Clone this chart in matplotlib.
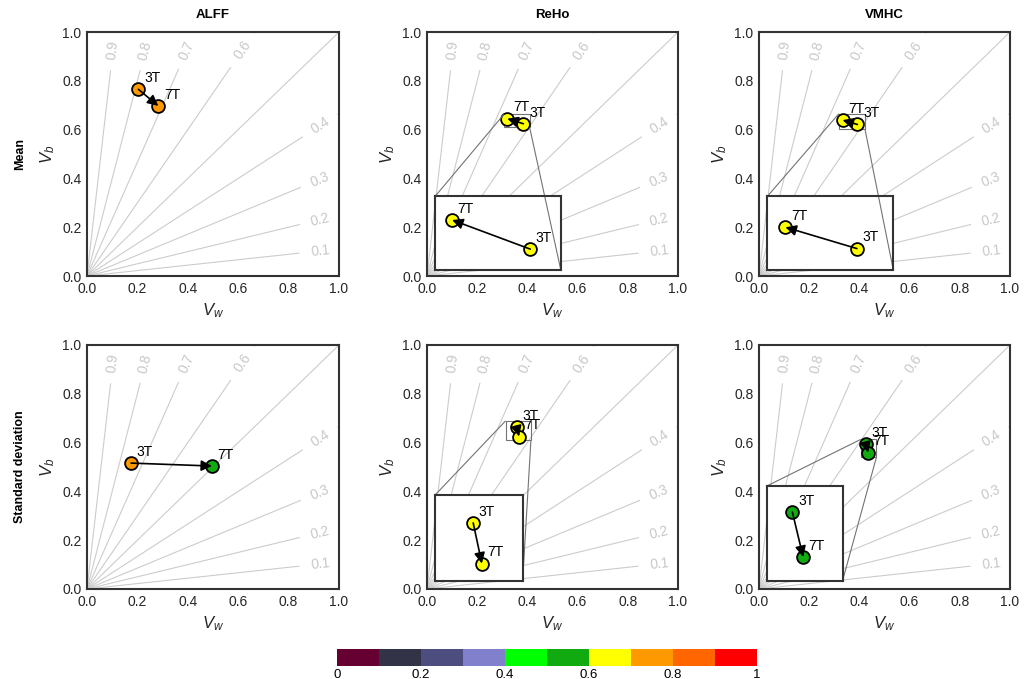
import numpy as np
import matplotlib
matplotlib.use("Agg")
import matplotlib.pyplot as plt
from matplotlib.colors import ListedColormap, BoundaryNorm
from matplotlib.colorbar import ColorbarBase
from mpl_toolkits.axes_grid1.inset_locator import mark_inset

plt.rcParams['font.family'] = ['Liberation Sans', 'DejaVu Sans']
plt.rcParams['mathtext.fontset'] = 'custom'
plt.rcParams['mathtext.rm'] = 'Liberation Sans'
plt.rcParams['mathtext.it'] = 'Liberation Sans:italic'

# ---------------- data ----------------
measures = ['ALFF', 'ReHo', 'VMHC']
stats = ['Mean', 'Standard deviation']
sessions = ['3T', '7T']

vw_3t_mean = [0.204, 0.384, 0.392]
vb_3t_mean = [0.765, 0.624, 0.621]
vw_7t_mean = [0.283, 0.320, 0.333]
vb_7t_mean = [0.697, 0.645, 0.639]

vw_3t_sd = [0.175, 0.357, 0.426]
vb_3t_sd = [0.516, 0.663, 0.593]
vw_7t_sd = [0.496, 0.367, 0.435]
vb_7t_sd = [0.504, 0.625, 0.559]

icc_levels = [0.1, 0.2, 0.3, 0.4, 0.5, 0.6, 0.7, 0.8, 0.9]
tick_values = [0.0, 0.2, 0.4, 0.6, 0.8, 1.0]
cbar_ticks = [0, 0.2, 0.4, 0.6, 0.8, 1]
cbar_ticklabels = ['0', '0.2', '0.4', '0.6', '0.8', '1']
cmap_colors = ['#660033', '#333347', '#4d4d7f', '#8080cc', '#00ff00',
               '#11aa11', '#ffff00', '#ff9900', '#ff6600', '#ff0000']
cmap_bounds = [0, 0.1, 0.2, 0.3, 0.4, 0.5, 0.6, 0.7, 0.8, 0.9, 1.0]

# inset layout (parent data coords) and zoom windows
inset_bounds = {(0, 1): [0.032, 0.025, 0.501, 0.301],
                (0, 2): [0.033, 0.025, 0.502, 0.301],
                (1, 1): [0.032, 0.034, 0.349, 0.351],
                (1, 2): [0.033, 0.034, 0.300, 0.389]}
inset_xlim = {(0, 1): (0.306, 0.409), (0, 2): (0.318, 0.422),
              (1, 1): (0.313, 0.414), (1, 2): (0.405, 0.468)}
inset_ylim = {(0, 1): (0.609, 0.662), (0, 2): (0.603, 0.665),
              (1, 1): (0.609, 0.689), (1, 2): (0.541, 0.613)}

cmap = ListedColormap(cmap_colors)
norm = BoundaryNorm(cmap_bounds, cmap.N)

TXT = '0.15'

fig = plt.figure(figsize=(10.33, 6.79), dpi=100)
W, H = 1033, 679
col_left = [87, 427, 759]
col_w = [252, 251, 251]
row_top = [32, 345]
row_h = 244


def draw_icc(ax):
    gap = 0.085
    for k in icc_levels:
        d = np.array([1 - k, k]) / np.hypot(1 - k, k)
        r_end = 1.0 / max(d)
        if abs(k - 0.5) < 1e-9:
            ax.plot([0, d[0] * r_end], [0, d[1] * r_end], color='#cccccc', lw=0.8, zorder=1)
            continue
        if k < 0.5:
            lx = 0.925
            ly = lx * k / (1 - k)
        else:
            ly = 0.925
            lx = ly * (1 - k) / k
        r_lab = np.hypot(lx, ly)
        r1 = r_lab - gap
        r2 = r_lab + gap
        ax.plot([0, d[0] * r1], [0, d[1] * r1], color='#cccccc', lw=0.8, zorder=1)
        if r2 < r_end:
            ax.plot([d[0] * r2, d[0] * r_end], [d[1] * r2, d[1] * r_end],
                    color='#cccccc', lw=0.8, zorder=1)
        ang = np.degrees(np.arctan2(k, 1 - k))
        ax.text(lx, ly, f'{k:.1f}', color='#c8c8c8', fontsize=10, rotation=ang,
                rotation_mode='anchor', ha='center', va='center',
                transform_rotates_text=True, zorder=1)


def draw_points(ax, x3, y3, x7, y7):
    for (x, y, lab) in [(x3, y3, '3T'), (x7, y7, '7T')]:
        icc = y / (x + y)
        ax.scatter([x], [y], s=85, color=cmap(norm(icc)), edgecolor='black',
                   linewidth=1.3, zorder=3)
        ax.annotate(lab, (x, y), xytext=(4, 3), textcoords='offset points',
                    ha='left', va='bottom', fontsize=10, color='black', zorder=6)
    ax.annotate('', xy=(x7, y7), xytext=(x3, y3),
                arrowprops=dict(arrowstyle='-|>', color='black', lw=1.2,
                                mutation_scale=16, shrinkA=0, shrinkB=0),
                zorder=4)


for r, stat in enumerate(stats):
    if r == 0:
        X3, Y3, X7, Y7 = vw_3t_mean, vb_3t_mean, vw_7t_mean, vb_7t_mean
    else:
        X3, Y3, X7, Y7 = vw_3t_sd, vb_3t_sd, vw_7t_sd, vb_7t_sd
    for c, meas in enumerate(measures):
        l = col_left[c] / W
        b = 1 - (row_top[r] + row_h) / H
        ax = fig.add_axes([l, b, col_w[c] / W, row_h / H])
        ax.set_xlim(0, 1)
        ax.set_ylim(0, 1)
        draw_icc(ax)
        draw_points(ax, X3[c], Y3[c], X7[c], Y7[c])
        ax.set_xticks(tick_values)
        ax.set_yticks(tick_values)
        ax.set_xticklabels([f'{t:.1f}' for t in tick_values])
        ax.set_yticklabels([f'{t:.1f}' for t in tick_values])
        ax.tick_params(length=0, labelsize=10, colors=TXT, pad=4)
        for s in ax.spines.values():
            s.set_color('0.2')
            s.set_linewidth(1.5)
        ax.set_xlabel('$V_w$', fontsize=12, color=TXT, labelpad=4)
        ax.set_ylabel('$V_b$', fontsize=12, color=TXT, labelpad=4)
        if r == 0:
            ax.set_title(meas, fontsize=9.5, fontweight='bold', pad=10, color='black')
        if c == 0:
            fig.text(20 / W, 1 - (row_top[r] + row_h / 2) / H, stat, rotation=90,
                     ha='center', va='center', fontsize=9, fontweight='bold')
        if (r, c) in inset_bounds:
            axins = ax.inset_axes(inset_bounds[(r, c)], transform=ax.transData)
            axins.set_xlim(*inset_xlim[(r, c)])
            axins.set_ylim(*inset_ylim[(r, c)])
            axins.set_xticks([])
            axins.set_yticks([])
            axins.set_facecolor('white')
            for s in axins.spines.values():
                s.set_color('0.2')
                s.set_linewidth(1.5)
            draw_points(axins, X3[c], Y3[c], X7[c], Y7[c])
            mark_inset(ax, axins, loc1=2, loc2=4, fc='none', ec='0.45', lw=0.8)

# colorbar
cax = fig.add_axes([337 / W, 1 - 666 / H, 420 / W, 17 / H])
cb = ColorbarBase(cax, cmap=cmap, norm=norm, orientation='horizontal',
                  boundaries=cmap_bounds, ticks=cbar_ticks)
cb.set_ticklabels(cbar_ticklabels)
cb.outline.set_visible(False)
cax.minorticks_off()
cax.tick_params(which='both', length=0, labelsize=9.5, colors='black', pad=2)

fig.savefig('out.png', dpi=100)
